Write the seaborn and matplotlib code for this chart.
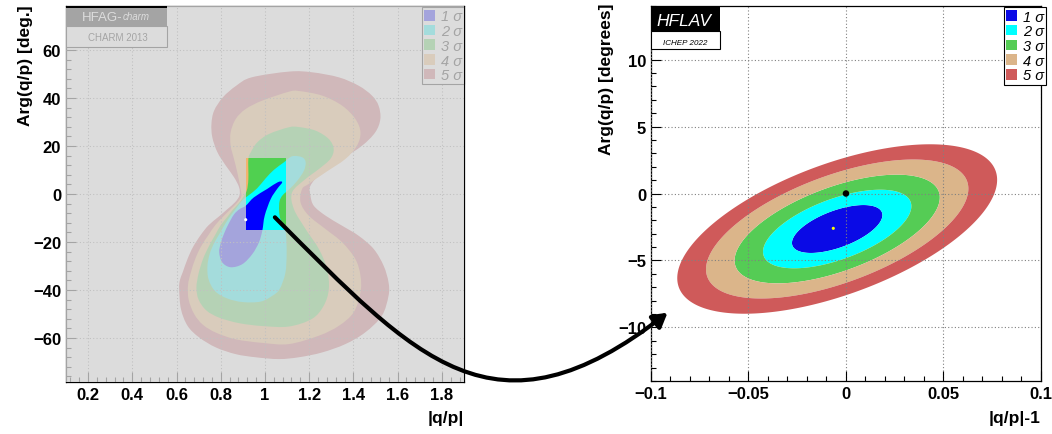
import numpy as np
import matplotlib
matplotlib.use("Agg")
import matplotlib.pyplot as plt
import seaborn as sns
from matplotlib.patches import Rectangle, Patch, PathPatch, FancyArrowPatch
from matplotlib.path import Path
from matplotlib.ticker import MultipleLocator, FuncFormatter

# ---------------------------------------------------------------- data
sigma_labels = ["1 σ", "2 σ", "3 σ", "4 σ", "5 σ"]
dchi2_levels = [0.0, 2.30, 6.18, 11.83, 19.33, 28.74]

# HFAG-charm (CHARM 2013) contours, |q/p| vs Arg(q/p) [deg]
c5_x = [1.11, 0.94, 0.87, 0.81, 0.77, 0.758, 0.762, 0.785, 0.823, 0.86, 0.883, 0.885, 0.866, 0.83,
        0.79, 0.745, 0.71, 0.675, 0.65, 0.628, 0.615, 0.612, 0.62, 0.65, 0.702, 0.778, 0.868, 0.958,
        1.063, 1.153, 1.258, 1.364, 1.454, 1.529, 1.559, 1.559, 1.537, 1.492, 1.424, 1.349, 1.274,
        1.221, 1.206, 1.206, 1.258, 1.349, 1.439, 1.499, 1.522, 1.514, 1.484, 1.424, 1.334, 1.213]
c5_y = [51.0, 48.6, 45.1, 40.3, 34.7, 29.2, 23.6, 17.4, 11.8, 7.0, 2.8, -0.5, -3.3, -6.3,
        -9.5, -13.0, -17.0, -22.0, -27.0, -32.6, -36.0, -39.6, -47.9, -54.9, -59.7, -63.9, -66.7, -68.0,
        -68.75, -68.0, -66.0, -62.5, -57.6, -50.7, -42.4, -36.8, -29.9, -22.9, -17.4, -13.2, -9.0,
        -4.9, -0.7, 3.5, 9.0, 14.6, 20.1, 25.7, 31.25, 36.8, 41.0, 45.1, 48.6, 50.7]

c4_x = [1.108, 0.988, 0.913, 0.868, 0.845, 0.845, 0.86, 0.875, 0.89, 0.893, 0.875, 0.845, 0.81,
        0.775, 0.745, 0.71, 0.685, 0.665, 0.652, 0.655, 0.68, 0.72, 0.78, 0.868, 0.988, 1.108,
        1.244, 1.334, 1.401, 1.432, 1.432, 1.409, 1.349, 1.274, 1.198, 1.161, 1.168, 1.198, 1.274,
        1.364, 1.416, 1.432, 1.409, 1.349, 1.258, 1.153]
c4_y = [42.6, 38.9, 35.4, 31.25, 25.7, 20.1, 14.6, 9.0, 2.1, -1.0, -3.5, -6.3, -9.5,
        -13.0, -17.0, -22.0, -27.0, -32.6, -38.0, -44.0, -50.0, -54.5, -57.8, -60.5, -62.0, -62.5,
        -59.0, -54.9, -49.3, -41.0, -34.0, -27.1, -20.1, -14.6, -9.0, -3.5, 2.1, 4.2, 9.0,
        14.6, 20.1, 25.7, 31.25, 36.8, 41.0, 42.9]

c3_x = [1.108, 1.018, 0.965, 0.936, 0.925, 0.925, 0.918, 0.90, 0.88, 0.855, 0.83, 0.80, 0.775,
        0.745, 0.72, 0.70, 0.69, 0.70, 0.735, 0.793, 0.883, 0.988, 1.108, 1.213, 1.266, 1.289,
        1.281, 1.244, 1.184, 1.131, 1.123, 1.184, 1.244, 1.296, 1.311, 1.289, 1.229, 1.153]
c3_y = [27.8, 25.0, 21.5, 17.4, 14.6, 6.25, 1.5, -1.5, -4.0, -6.5, -9.5, -13.0, -17.0,
        -22.0, -27.0, -33.0, -39.0, -44.0, -48.5, -51.5, -53.8, -55.0, -55.2, -52.0, -46.5, -39.6,
        -31.25, -22.9, -14.6, -6.25, 0.7, 6.25, 10.4, 14.6, 18.75, 22.9, 26.4, 27.9]

c2_x = [1.123, 1.168, 1.184, 1.176, 1.146, 1.11, 1.08, 1.066, 1.064, 1.07, 1.085, 1.095, 1.098,
        1.092, 1.066, 1.033, 0.98, 0.90, 0.83, 0.775, 0.745, 0.74, 0.75, 0.77, 0.795, 0.82,
        0.845, 0.87, 0.89, 0.906, 0.928, 0.965, 1.003, 1.041, 1.086]
c2_y = [15.7, 15.3, 13.2, 9.7, 5.5, 2.0, -0.5, -3.0, -7.0, -10.5, -13.5, -17.0, -25.0,
        -33.0, -39.6, -42.4, -44.8, -45.0, -43.5, -40.5, -35.5, -30.0, -25.0, -20.5, -16.5, -12.5,
        -9.0, -6.0, -3.5, -2.0, -0.4, 2.4, 6.5, 10.1, 13.2]

c1_x = [1.078, 1.055, 1.026, 0.999, 0.988, 0.973, 0.943, 0.898, 0.845, 0.807, 0.793, 0.80,
        0.815, 0.835, 0.86, 0.885, 0.913, 0.950, 1.010, 1.058]
c1_y = [4.9, 2.1, -2.1, -9.0, -15.3, -20.1, -25.0, -29.2, -30.5, -28.5, -24.3, -20.5,
        -16.5, -12.5, -8.5, -6.3, -4.9, -1.4, 2.1, 4.9]

inset_x = [0.913, 1.095]
inset_y = [-15.0, 15.0]
old_point_x = [0.913]
old_point_y = [-10.7]

# HFLAV (ICHEP 2022) fit
fit_center = [-0.0045, -2.65]
fit_sigma = [0.0153, 1.18]
fit_rho = 0.58
best_fit_x = [-0.0065]
best_fit_y = [-2.6]
nocpv_x = [0.0]
nocpv_y = [0.0]

arrow_start = [1.045, -9.7]     # on left panel
arrow_end = [-0.0915, -8.9]     # on right panel

old_colors = ["#0000ff", "#00ffff", "#50d050", "#f2b46c", "#c85a64"]
new_colors = ["#0a0ae6", "#00ffff", "#55cc55", "#dbb58a", "#cf5a5a"]

# ---------------------------------------------------------------- style
sns.set_theme(style="white")
plt.rcParams["font.family"] = ["Liberation Sans", "DejaVu Sans"]
plt.rcParams.update({
    "text.color": "black",
    "axes.labelcolor": "black",
    "axes.edgecolor": "black",
    "axes.linewidth": 0.9,
    "xtick.color": "black",
    "ytick.color": "black",
})


def smooth_path(xs, ys):
    P = np.column_stack([xs, ys]).astype(float)
    n = len(P)
    verts = [P[0]]
    codes = [Path.MOVETO]
    for i in range(n):
        p0, p1, p2, p3 = P[i - 1], P[i], P[(i + 1) % n], P[(i + 2) % n]
        verts += [p1 + (p2 - p0) / 6.0, p2 - (p3 - p1) / 6.0, p2]
        codes += [Path.CURVE4] * 3
    verts.append(P[0])
    codes.append(Path.CLOSEPOLY)
    return Path(verts, codes)


def fmt(v, pos):
    v = round(v, 6)
    if v == 0:
        return "0"
    return f"{v:g}".replace("-", "\u2212")


fig = plt.figure(figsize=(10.52, 4.35), dpi=100)
fig.patch.set_facecolor("white")
axL = fig.add_axes([0.0627, 0.1195, 0.3783, 0.8644])
axR = fig.add_axes([0.6188, 0.1218, 0.3707, 0.8621])

# ---------------------------------------------------------------- left panel
axL.set_facecolor("white")
axL.set_xlim(0.1, 1.9)
axL.set_ylim(-78.3, 78.3)
contours = [(c5_x, c5_y), (c4_x, c4_y), (c3_x, c3_y), (c2_x, c2_y), (c1_x, c1_y)]
fill_cols = old_colors[::-1]
for (xs, ys), col in zip(contours, fill_cols):
    axL.add_patch(PathPatch(smooth_path(xs, ys), facecolor=col, edgecolor="none",
                            transform=axL.transData, zorder=2))

leg_handles = [Patch(facecolor=c, edgecolor="none") for c in old_colors]
legL = axL.legend(leg_handles, sigma_labels, loc="upper right", bbox_to_anchor=(1.0, 0.997),
                  frameon=True, fancybox=False, edgecolor="black", framealpha=1,
                  prop={"style": "italic", "size": 10.5, "weight": "normal"},
                  handlelength=0.75, handleheight=0.75, handletextpad=0.4,
                  labelspacing=0.05, borderpad=0.15, borderaxespad=0.0)
legL.get_frame().set_linewidth(0.8)
legL.set_zorder(6)

axL.add_patch(Rectangle((0, 0.9468), 0.254, 0.0532, transform=axL.transAxes,
                        facecolor="black", edgecolor="none", zorder=7))
t1 = axL.text(0.0394, 0.9636, "HFAG-", transform=axL.transAxes, color="white",
              fontsize=9.5, fontweight="normal", va="baseline", ha="left", zorder=8)
axL.annotate("charm", xy=(1, 0.12), xycoords=t1, ha="left", va="bottom", color="white",
             fontsize=7, fontweight="normal", style="italic", zorder=8)
axL.add_patch(Rectangle((0, 0.891), 0.254, 0.0558, transform=axL.transAxes,
                        facecolor="white", edgecolor="black", lw=0.8, zorder=7))
axL.text(0.131, 0.9185, "CHARM 2013", transform=axL.transAxes, color="black",
         fontsize=7, fontweight="normal", va="center", ha="center", zorder=8)

# grey veil over the old result
axL.add_patch(Rectangle((0, 0), 1, 1, transform=axL.transAxes, facecolor="#d3d3d3",
                        edgecolor="none", alpha=0.78, zorder=10))
axL.add_patch(Rectangle((0, 0.9947), 0.254, 0.0053, transform=axL.transAxes,
                        facecolor="black", edgecolor="none", zorder=11))

# bright inset (zoomed region)
clip_rect = Rectangle((inset_x[0], inset_y[0]), inset_x[1] - inset_x[0], inset_y[1] - inset_y[0],
                      transform=axL.transData)
for (xs, ys), col in zip(contours, fill_cols):
    pp = PathPatch(smooth_path(xs, ys), facecolor=col, edgecolor="none",
                   transform=axL.transData, zorder=11)
    axL.add_patch(pp)
    pp.set_clip_path(clip_rect)
sns.scatterplot(x=old_point_x, y=old_point_y, color="white", s=5, edgecolor="none",
                ax=axL, zorder=12, legend=False)

axL.xaxis.set_major_locator(MultipleLocator(0.2))
axL.xaxis.set_minor_locator(MultipleLocator(0.04))
axL.yaxis.set_major_locator(MultipleLocator(20))
axL.yaxis.set_minor_locator(MultipleLocator(4))
axL.set_xlabel("|q/p|", fontsize=12.5, fontweight="bold", loc="right")
axL.xaxis.set_label_coords(1.0, -0.074)
axL.set_ylabel("Arg(q/p) [deg.]", fontsize=12.5, fontweight="bold", loc="top")
axL.yaxis.set_label_coords(-0.083, 1.005)

# ---------------------------------------------------------------- right panel
axR.set_facecolor("white")
axR.set_xlim(-0.1, 0.1)
axR.set_ylim(-14, 14)
gx = np.linspace(-0.1, 0.1, 600)
gy = np.linspace(-14, 14, 600)
GX, GY = np.meshgrid(gx, gy)
u = (GX - fit_center[0]) / fit_sigma[0]
v = (GY - fit_center[1]) / fit_sigma[1]
Q = (u ** 2 - 2 * fit_rho * u * v + v ** 2) / (1 - fit_rho ** 2)
axR.contourf(GX, GY, Q, levels=dchi2_levels, colors=new_colors, zorder=1, antialiased=True)

sns.scatterplot(x=nocpv_x, y=nocpv_y, color="black", s=22, edgecolor="none",
                ax=axR, zorder=5, legend=False)
sns.scatterplot(x=best_fit_x, y=best_fit_y, color="yellow", s=5, edgecolor="none",
                ax=axR, zorder=5, legend=False)

leg_handles_r = [Patch(facecolor=c, edgecolor="none") for c in new_colors]
legR = axR.legend(leg_handles_r, sigma_labels, loc="upper right", bbox_to_anchor=(1.013, 0.9965),
                  frameon=True, fancybox=False, edgecolor="black", framealpha=1,
                  prop={"style": "italic", "size": 10.5, "weight": "normal"},
                  handlelength=0.75, handleheight=0.75, handletextpad=0.4,
                  labelspacing=0.05, borderpad=0.15, borderaxespad=0.0)
legR.get_frame().set_linewidth(0.8)
legR.set_zorder(6)

axR.add_patch(Rectangle((0, 0.933), 0.177, 0.067, transform=axR.transAxes,
                        facecolor="black", edgecolor="none", zorder=7))
axR.text(0.0846, 0.949, "HFLAV", transform=axR.transAxes, color="white", fontsize=12.5,
         fontweight="normal", style="italic", va="baseline", ha="center", zorder=8)
axR.add_patch(Rectangle((0, 0.885), 0.177, 0.048, transform=axR.transAxes,
                        facecolor="white", edgecolor="black", lw=0.8, zorder=7))
axR.text(0.088, 0.899, "ICHEP 2022", transform=axR.transAxes, color="black", fontsize=5.8,
         fontweight="normal", style="italic", va="baseline", ha="center", zorder=8)

axR.xaxis.set_major_locator(MultipleLocator(0.05))
axR.xaxis.set_minor_locator(MultipleLocator(0.01))
axR.yaxis.set_major_locator(MultipleLocator(5))
axR.yaxis.set_minor_locator(MultipleLocator(1))
axR.set_xlabel("|q/p|-1", fontsize=12.5, fontweight="bold", loc="right")
axR.xaxis.set_label_coords(1.0, -0.077)
axR.set_ylabel("Arg(q/p) [degrees]", fontsize=12.5, fontweight="bold", loc="top")
axR.yaxis.set_label_coords(-0.095, 1.01)

# ---------------------------------------------------------------- common axis cosmetics
for ax in (axL, axR):
    ax.set_axisbelow(False)
    ax.grid(True, which="major", color="#808080", linestyle=(0, (1, 2)), linewidth=0.8)
    ax.grid(False, which="minor")
    ax.xaxis.set_major_formatter(FuncFormatter(fmt))
    ax.yaxis.set_major_formatter(FuncFormatter(fmt))
    ax.tick_params(which="both", direction="in", top=False, right=False, width=0.8,
                   bottom=True, left=True)
    ax.tick_params(which="major", length=7, labelsize=12, pad=3.5)
    ax.tick_params(which="minor", length=3.5)
    for sp in ax.spines.values():
        sp.set_visible(True)
        sp.set_linewidth(0.9)
    for lab in ax.get_xticklabels() + ax.get_yticklabels():
        lab.set_fontweight("bold")

# ---------------------------------------------------------------- connecting arrow
A = axL.transData.transform(arrow_start)
B = axR.transData.transform(arrow_end)
aA, aB = np.deg2rad(-45), np.deg2rad(38)
P1 = A + 200 * np.array([np.cos(aA), np.sin(aA)])
P2 = B - 220 * np.array([np.cos(aB), np.sin(aB)])
pts = fig.transFigure.inverted().transform(np.vstack([A, P1, P2, B]))
arrow_path = Path(pts, [Path.MOVETO, Path.CURVE4, Path.CURVE4, Path.CURVE4])
arrow = FancyArrowPatch(path=arrow_path, arrowstyle="-|>,head_length=0.6,head_width=0.35",
                        mutation_scale=14, lw=3.0, color="black", transform=fig.transFigure,
                        zorder=20)
fig.add_artist(arrow)

fig.savefig("out.png", dpi=100)
